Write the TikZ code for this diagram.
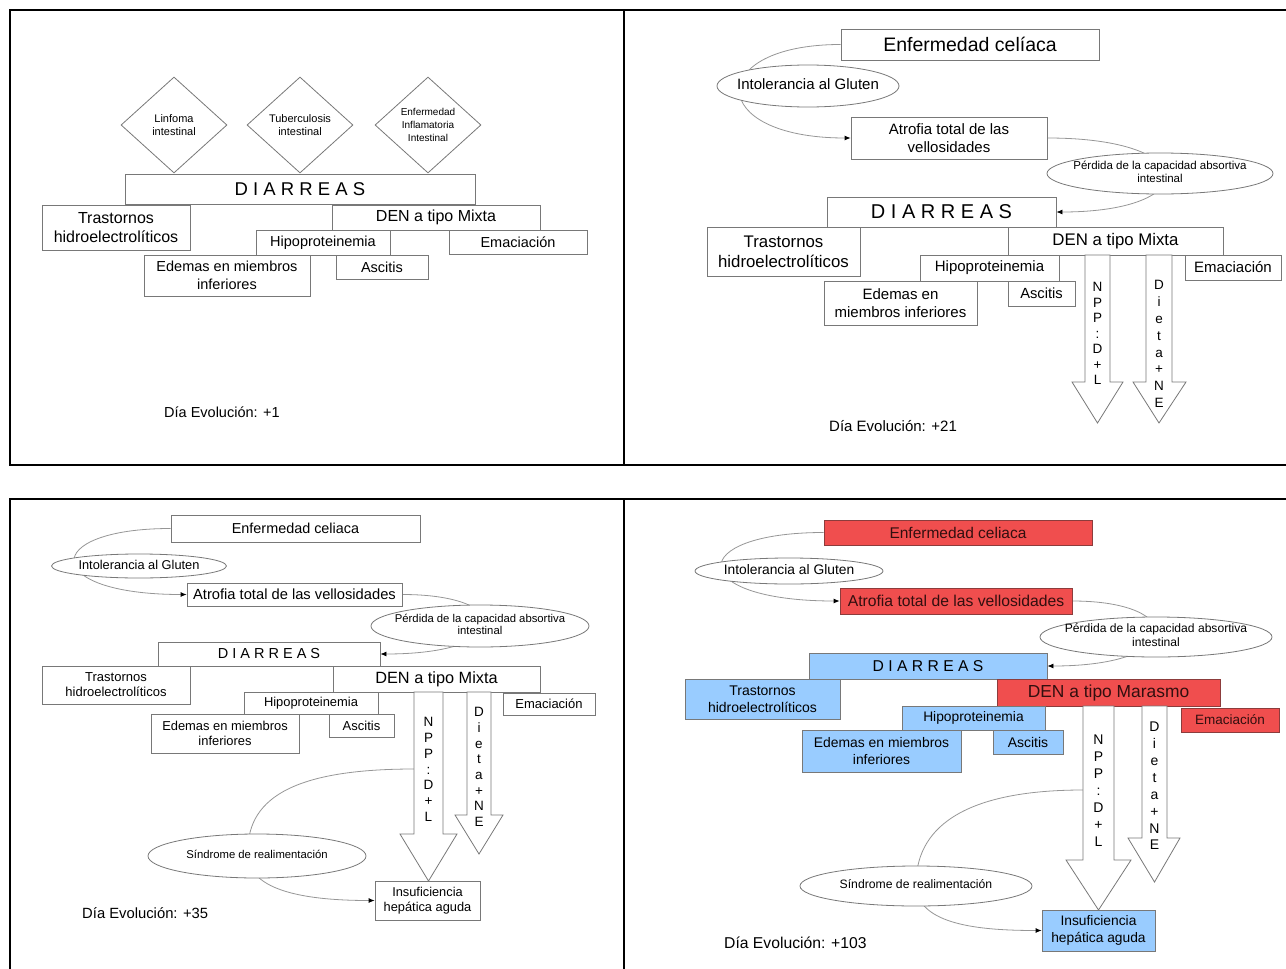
\documentclass[tikz,border=0pt]{standalone}
\usepackage{fontspec}
\setmainfont{Liberation Sans}
\usetikzlibrary{shapes.geometric,arrows.meta,backgrounds}
\definecolor{bred}{RGB}{240,78,78}
\definecolor{bblue}{RGB}{153,204,255}
\definecolor{bline}{RGB}{120,120,120}
\definecolor{cline}{RGB}{150,150,150}
\definecolor{rline}{RGB}{140,60,60}
\definecolor{rtext}{RGB}{50,15,15}
\newcommand\F[2]{\fontsize{#1}{#2}\selectfont}
\newcommand\bx[7]{\node[#6, minimum width={(#4-#2)*1pt}, minimum height={(#5-#3)*1pt}] (#1) at ({(#2+#4)/2},{(#3+#5)/2}) {#7};}
\newcommand\el[7]{\node[elli, font=#6, minimum width={#4*1pt}, minimum height={#5*1pt}] (#1) at (#2,#3) {\makebox[0pt]{\begin{tabular}{@{}c@{}}#7\end{tabular}}};}
\tikzset{
  box/.style={draw=bline, line width=0.8pt, fill=white, inner sep=0pt, align=center, text=black},
  rbox/.style={box, fill=bred, draw=rline, text=rtext},
  bbox/.style={box, fill=bblue},
  elli/.style={ellipse, draw=bline, line width=0.8pt, fill=white, inner sep=0pt},
  dia/.style={diamond, draw=bline, line width=0.8pt, fill=white, inner sep=0pt, align=center, minimum width=106pt, minimum height=96pt},
  conn/.style={draw=cline, line width=0.8pt},
  arr/.style={conn, -{Latex[length=6pt,width=5pt,color=black]}},
  blk/.style={draw=bline, line width=0.8pt, fill=white},
  frame/.style={line width=2.3pt, black},
  lbl/.style={anchor=west, inner sep=0pt},
  vtxt/.style={align=center, inner sep=0pt}
}
\begin{document}
\begin{tikzpicture}[x=1pt,y=-1pt]
\useasboundingbox (0,0) rectangle (1286,969);
% frames
\draw[frame] (1295,10) -- (10,10) -- (10,465) -- (1295,465);
\draw[frame] (624,10) -- (624,465);
\draw[frame] (1295,499) -- (10,499) -- (10,980);
\draw[frame] (624,499) -- (624,980);

% ---------------- Panel 1 ----------------
\node[dia, font=\F{11}{13}] (p1d1) at (174,125) {Linfoma\\intestinal};
\node[dia, font=\F{11}{13}] (p1d2) at (300,125) {Tuberculosis\\intestinal};
\node[dia, font=\F{10}{13}] (p1d3) at (428,125) {Enfermedad\\Inflamatoria\\Intestinal};
\bx{p1diar}{125}{174}{475}{204}{box, font=\F{18.5}{20}}{D I A R R E A S}
\bx{p1tras}{42}{205}{190}{250}{box, font=\F{16}{19}}{Trastornos\\hidroelectrolíticos}
\bx{p1den}{332}{205}{540}{230}{box, font=\F{16}{19}}{DEN a tipo Mixta}
\bx{p1hipo}{256}{230}{390}{255}{box, font=\F{14.5}{17}}{Hipoproteinemia}
\bx{p1ema}{449}{230}{587}{254}{box, font=\F{14.5}{17}}{Emaciación}
\bx{p1ede}{144}{255}{310}{296}{box, font=\F{14.5}{17.5}}{Edemas en miembros\\inferiores}
\bx{p1asc}{336}{255}{428}{279}{box, font=\F{14.5}{17}}{Ascitis}
\node[lbl, font=\F{14.5}{17}] (p1dia) at (164,412) {Día Evolución: +1};

% ---------------- Panel 2 ----------------
\bx{p2enf}{841}{29}{1099}{60}{box, font=\F{19.5}{22}}{Enfermedad celíaca}
\el{p2int}{808}{86}{182}{42}{\F{15}{18}}{Intolerancia al Gluten}
\bx{p2atr}{851}{117}{1047}{159}{box, font=\F{15}{18}}{Atrofia total de las\\vellosidades}
\el{p2per}{1160}{173.5}{226}{41}{\F{11.5}{12.7}}{Pérdida de la capacidad absortiva\\intestinal}
\bx{p2diar}{827}{197}{1056}{227}{box, font=\F{20}{22}}{D I A R R E A S}
\bx{p2tras}{707}{227}{860}{276}{box, font=\F{16.8}{20}}{Trastornos\\hidroelectrolíticos}
\bx{p2den}{1008}{227}{1223}{255}{box, font=\F{16.8}{20}}{DEN a tipo Mixta}
\bx{p2hipo}{920}{255}{1059}{281}{box, font=\F{15}{18}}{Hipoproteinemia}
\bx{p2ema}{1185}{255}{1281}{280}{box, font=\F{15}{18}}{Emaciación}
\bx{p2ede}{824}{281}{977}{325}{box, font=\F{15}{18.7}}{Edemas en\\miembros inferiores}
\bx{p2asc}{1008}{281}{1075}{306}{box, font=\F{14.7}{17}}{Ascitis}
\draw[blk] (1085,255) -- (1085,382) -- (1072,382) -- (1097.5,423) -- (1123,382) -- (1110,382) -- (1110,255) -- cycle;
\draw[blk] (1146,255) -- (1146,382) -- (1133,382) -- (1159,423) -- (1186,382) -- (1172,382) -- (1172,255) -- cycle;
\node[vtxt, font=\F{13.5}{15.5}] (p2npp) at (1097.5,333.5) {N\\P\\P\\:\\D\\+\\L};
\node[vtxt, font=\F{13.5}{16.9}] (p2die) at (1159,344) {D\\i\\e\\t\\a\\+\\N\\E};
\node[lbl, font=\F{15}{18}] (p2dia) at (829,426) {Día Evolución: +21};

% ---------------- Panel 3 ----------------
\bx{p3enf}{171}{515}{420}{542}{box, font=\F{14.4}{17}}{Enfermedad celiaca}
\el{p3int}{139}{566}{175}{24}{\F{12.8}{15}}{Intolerancia al Gluten}
\bx{p3atr}{187}{583}{402}{606}{box, font=\F{14.7}{17}}{Atrofia total de las vellosidades}
\el{p3per}{480}{626}{218}{42}{\F{11.3}{12.5}}{Pérdida de la capacidad absortiva\\intestinal}
\bx{p3diar}{158}{642}{380}{666}{box, font=\F{14.5}{17}}{D I A R R E A S}
\bx{p3tras}{42}{666}{190}{704}{box, font=\F{13}{15}}{Trastornos\\hidroelectrolíticos}
\bx{p3den}{333}{666}{540}{692}{box, font=\F{16.3}{19}}{DEN a tipo Mixta}
\bx{p3hipo}{244}{692}{378}{714}{box, font=\F{12.9}{15}}{Hipoproteinemia}
\bx{p3ema}{503}{693}{595}{715}{box, font=\F{13}{15}}{Emaciación}
\bx{p3ede}{151}{714}{299}{753}{box, font=\F{12.9}{15}}{Edemas en miembros\\inferiores}
\bx{p3asc}{329}{714}{394}{737}{box, font=\F{13}{15}}{Ascitis}
\draw[blk] (414,692) -- (414,834) -- (400,834) -- (428.5,881) -- (457,834) -- (443,834) -- (443,692) -- cycle;
\draw[blk] (467,692) -- (467,815) -- (455,815) -- (479,854) -- (503,815) -- (491,815) -- (491,692) -- cycle;
\coordinate (p3c) at (414,769);
\node[vtxt, font=\F{13.5}{15.8}] (p3npp) at (428.5,769.5) {N\\P\\P\\:\\D\\+\\L};
\node[vtxt, font=\F{13.5}{15.7}] (p3die) at (479,767) {D\\i\\e\\t\\a\\+\\N\\E};
\el{p3sin}{257}{856}{218}{44}{\F{11.3}{13}}{Síndrome de realimentación}
\bx{p3ins}{375}{881}{480}{920}{box, font=\F{12.8}{15}}{Insuficiencia\\hepática aguda}
\node[lbl, font=\F{14.8}{17}] (p3dia) at (82,913) {Día Evolución: +35};

% ---------------- Panel 4 ----------------
\bx{p4enf}{824}{520}{1092}{545}{rbox, font=\F{15.5}{18}}{Enfermedad celiaca}
\el{p4int}{789}{571}{188}{26}{\F{13.8}{16}}{Intolerancia al Gluten}
\bx{p4atr}{840}{588}{1072}{614}{rbox, font=\F{15.7}{18}}{Atrofia total de las vellosidades}
\el{p4per}{1156}{637}{232}{40}{\F{12.1}{13.5}}{Pérdida de la capacidad absortiva\\intestinal}
\bx{p4diar}{809}{653}{1047}{679}{bbox, font=\F{15.7}{18}}{D I A R R E A S}
\bx{p4tras}{685}{679}{840}{719}{bbox, font=\F{14}{16.7}}{Trastornos\\hidroelectrolíticos}
\bx{p4den}{997}{679}{1220}{706}{rbox, font=\F{17.4}{20}}{DEN a tipo Marasmo}
\bx{p4hipo}{902}{706}{1045}{730}{bbox, font=\F{13.8}{16}}{Hipoproteinemia}
\bx{p4ema}{1181}{708}{1279}{732}{rbox, font=\F{13.5}{16}}{Emaciación}
\bx{p4ede}{802}{730}{961}{772}{bbox, font=\F{13.9}{16.7}}{Edemas en miembros\\inferiores}
\bx{p4asc}{993}{730}{1063}{754}{bbox, font=\F{14}{16}}{Ascitis}
\draw[blk] (1083,706) -- (1083,860) -- (1066,860) -- (1098.5,910) -- (1131,860) -- (1114,860) -- (1114,706) -- cycle;
\draw[blk] (1142,706) -- (1142,838) -- (1128,838) -- (1154.5,882) -- (1180,838) -- (1167,838) -- (1167,706) -- cycle;
\coordinate (p4c) at (1083,790);
\node[vtxt, font=\F{14}{17}] (p4npp) at (1098.5,791) {N\\P\\P\\:\\D\\+\\L};
\node[vtxt, font=\F{14}{16.9}] (p4die) at (1154.5,786) {D\\i\\e\\t\\a\\+\\N\\E};
\el{p4sin}{916}{886}{232}{40}{\F{12.2}{14}}{Síndrome de realimentación}
\bx{p4ins}{1042}{910}{1155}{951}{bbox, font=\F{13.8}{17}}{Insuficiencia\\hepática aguda}
\node[lbl, font=\F{15.7}{18}] (p4dia) at (724,943) {Día Evolución: +103};

% ---------------- connectors ----------------
\begin{pgfonlayer}{background}
\draw[arr] (p2enf.west) .. controls (705,44.5) and (705,138) .. (p2atr.west);
\draw[arr] (p2atr.east) .. controls (1203,138) and (1203,212) .. (p2diar.east);
\draw[arr] (p3enf.west) .. controls (40,528.5) and (40,594.5) .. (p3atr.west);
\draw[arr] (p3atr.east) .. controls (516,594.5) and (516,654) .. (p3diar.east);
\draw[arr] (p3c) .. controls (290,769) and (245,800) .. (248,856) .. controls (250,895) and (320,900.5) .. (p3ins.west);
\draw[arr] (p4enf.west) .. controls (685,532.5) and (685,601) .. (p4atr.west);
\draw[arr] (p4atr.east) .. controls (1187,601) and (1187,666) .. (p4diar.east);
\draw[arr] (p4c) .. controls (960,790) and (915,830) .. (916,886) .. controls (918,925) and (980,930.5) .. (p4ins.west);
\end{pgfonlayer}
\end{tikzpicture}
\end{document}
